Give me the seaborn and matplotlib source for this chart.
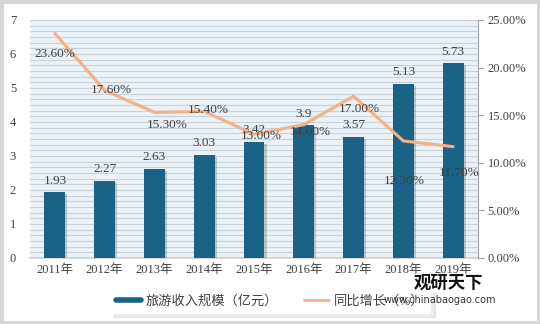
import matplotlib
matplotlib.use("Agg")
import matplotlib.pyplot as plt
import seaborn as sns
import numpy as np
import pandas as pd
from matplotlib.lines import Line2D
from matplotlib.patches import Rectangle
from matplotlib.ticker import MultipleLocator, FuncFormatter
import matplotlib.patheffects as pe

years = ["2011年", "2012年", "2013年", "2014年", "2015年", "2016年", "2017年", "2018年", "2019年"]
revenue = [1.93, 2.27, 2.63, 3.03, 3.42, 3.9, 3.57, 5.13, 5.73]
revenue_labels = ["1.93", "2.27", "2.63", "3.03", "3.42", "3.9", "3.57", "5.13", "5.73"]
growth = [23.60, 17.60, 15.30, 15.40, 13.00, 14.00, 17.00, 12.30, 11.70]
series_names = ["旅游收入规模（亿元）", "同比增长（%）"]

# label offsets (points) for growth labels
growth_offsets = [(0, -15), (5, 0), (9, -9), (3, 1), (5, -1), (5, -5), (4, -9), (1, -29), (4, -19)]

sns.set_theme(style="white")
plt.rcParams["font.family"] = ["Liberation Serif", "Noto Sans CJK SC", "DejaVu Sans"]

bar_color = "#1a6286"
line_color = "#f4b183"
text_color = "#404040"

fig = plt.figure(figsize=(5.4, 3.24), dpi=100)
ax = fig.add_axes([30/540, 1-258/324, 448/540, 238/324])
ax.set_facecolor("#eaf1f7")

df = pd.DataFrame({"year": years, "revenue": revenue, "growth": growth})
sns.barplot(data=df, x="year", y="revenue", color=bar_color, width=0.42,
            saturation=1, ax=ax, zorder=3)
for p in ax.patches:
    p.set_edgecolor("none")
    p.set_path_effects([pe.SimplePatchShadow(offset=(1.5, -1.5), alpha=0.3, shadow_rgbFace="#606060"), pe.Normal()])

ax.set_ylim(0, 7)
ax.yaxis.set_major_locator(MultipleLocator(1))
ax.yaxis.set_minor_locator(MultipleLocator(1/6))
ax.grid(axis="y", which="both", color="#c9d1da", linewidth=0.8, zorder=0)
ax.set_axisbelow(True)
ax.set_xlabel("")
ax.set_ylabel("")
for s in ["left", "top", "right"]:
    ax.spines[s].set_visible(False)
ax.spines["bottom"].set_color("#d0d0d0")
ax.tick_params(axis="y", which="both", length=0, labelsize=9, labelcolor=text_color, pad=10)
ax.tick_params(axis="x", length=0, labelsize=9, labelcolor=text_color, pad=4)
for i, (v, lab) in enumerate(zip(revenue, revenue_labels)):
    ax.annotate(lab, (i, v), xytext=(0, 4), textcoords="offset points",
                ha="center", va="bottom", fontsize=9.5, color=text_color, zorder=6)

ax2 = ax.twinx()
sns.pointplot(data=df, x="year", y="growth", color=line_color, markers="",
              linestyles="-", linewidth=2.2, ax=ax2, zorder=5)
ax2.set_ylim(0, 25)
ax2.yaxis.set_major_locator(MultipleLocator(5))
ax2.yaxis.set_major_formatter(FuncFormatter(lambda v, p: f"{v:.2f}%"))
ax2.set_ylabel("")
ax2.set_xlabel("")
for s in ["left", "top", "bottom"]:
    ax2.spines[s].set_visible(False)
ax2.spines["right"].set_color("#a6a6a6")
ax2.spines["right"].set_linewidth(0.8)
ax2.tick_params(axis="y", length=4, width=0.8, color="#a6a6a6", labelsize=9, labelcolor=text_color, pad=3, direction="out")
ax2.grid(False)
for i, (g, off) in enumerate(zip(growth, growth_offsets)):
    ax2.annotate(f"{g:.2f}%", (i, g), xytext=off, textcoords="offset points",
                 ha="center", va="center", fontsize=9.5, color=text_color, zorder=7)
ax2.set_xlim(-0.5, len(years) - 0.5)

handles = [Line2D([0], [0], color=bar_color, lw=4),
           Line2D([0], [0], color=line_color, lw=2)]
leg = fig.legend(handles, series_names, loc="center", bbox_to_anchor=(0.5, 0.071),
                 ncol=2, frameon=True, fontsize=9.5, handlelength=1.9, handletextpad=0.35,
                 columnspacing=2.0, borderpad=0.45, fancybox=False,
                 shadow={"color": "#d0d0d0", "alpha": 0.4, "ox": 3, "oy": -3})
leg.get_frame().set_edgecolor("white")
leg.get_frame().set_facecolor("white")
leg.set_zorder(5)
for t in leg.get_texts():
    t.set_color(text_color)

# outer frame
fig.patches.append(Rectangle((0, 0), 1, 1, transform=fig.transFigure, fill=False,
                             edgecolor="#d6d6d6", linewidth=5, zorder=10))

# watermark
fig.text(0.767, 0.126, "观研天下", fontsize=12.5, fontweight="bold", color="#111111",
         family=["Noto Sans CJK SC"], ha="left", va="center", zorder=20)
fig.text(0.711, 0.074, "www.chinabaogao.com", fontsize=7, color="#333333",
         family=["DejaVu Sans"], ha="left", va="center", zorder=20)

fig.savefig("out.png", dpi=100)
